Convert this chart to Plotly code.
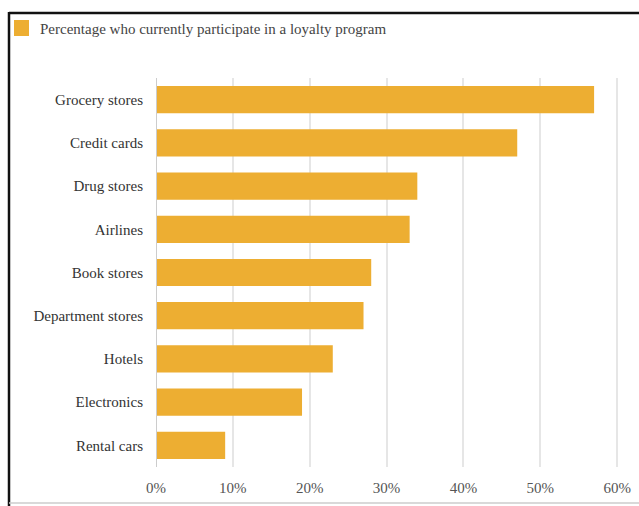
import plotly.graph_objects as go

categories = ["Grocery stores", "Credit cards", "Drug stores", "Airlines", "Book stores",
              "Department stores", "Hotels", "Electronics", "Rental cars"]
values = [57, 47, 34, 33, 28, 27, 23, 19, 9]
tick_vals = [0, 10, 20, 30, 40, 50, 60]
tick_text = ["0%", "10%", "20%", "30%", "40%", "50%", "60%"]
series_name = "Percentage who currently participate in a loyalty program"

W, H = 639, 506
ml, mr, mt, mb = 156, 18, 78, 39
pw, ph = W - ml - mr, H - mt - mb
BAR_COLOR = "#EDAE32"


def px_x(p):
    return (p - ml) / pw


def px_y(p):
    return 1 - (p - mt) / ph


fig = go.Figure()
fig.add_trace(go.Bar(
    x=values, y=categories, orientation="h", name=series_name,
    marker=dict(color=BAR_COLOR, line=dict(width=0)),
    showlegend=False,
))

fig.update_layout(
    width=W, height=H,
    margin=dict(l=ml, r=mr, t=mt, b=mb, autoexpand=False),
    paper_bgcolor="white", plot_bgcolor="white",
    font=dict(family="Liberation Serif", size=14, color="#444444"),
    bargap=0.37,
    xaxis=dict(range=[0, 60.5], tickvals=tick_vals, ticktext=tick_text,
               showgrid=True, gridcolor="#E6E6E6", gridwidth=1.5,
               zeroline=False, showline=False,
               ticks="outside", ticklen=7, tickcolor="rgba(0,0,0,0)",
               tickfont=dict(size=15, color="#555555")),
    yaxis=dict(autorange="reversed", showgrid=False, zeroline=False,
               ticks="", ticklabelstandoff=12,
               tickfont=dict(size=15, color="#333333")),
    annotations=[
        dict(text=series_name, xref="paper", yref="paper",
             x=px_x(38), y=px_y(29), xanchor="left", yanchor="middle",
             showarrow=False, font=dict(size=15, color="#444444")),
    ],
    shapes=[
        dict(type="rect", xref="paper", yref="paper",
             x0=px_x(14), x1=px_x(29), y0=px_y(20), y1=px_y(36),
             fillcolor=BAR_COLOR, line=dict(width=0)),
        dict(type="line", xref="x", yref="paper", x0=0, x1=0, y0=0, y1=1,
             line=dict(color="#CCCCCC", width=2), layer="above"),
        dict(type="line", xref="paper", yref="paper",
             x0=px_x(9), x1=px_x(W), y0=px_y(13), y1=px_y(13),
             line=dict(color="#111111", width=2.5)),
        dict(type="line", xref="paper", yref="paper",
             x0=px_x(9), x1=px_x(9), y0=px_y(12), y1=px_y(H + 2),
             line=dict(color="#111111", width=2.5)),
        dict(type="line", xref="paper", yref="paper",
             x0=px_x(9), x1=px_x(W), y0=px_y(H - 3), y1=px_y(H - 3),
             line=dict(color="#CCCCCC", width=1.5)),
    ],
)

fig.write_html("out.html")
